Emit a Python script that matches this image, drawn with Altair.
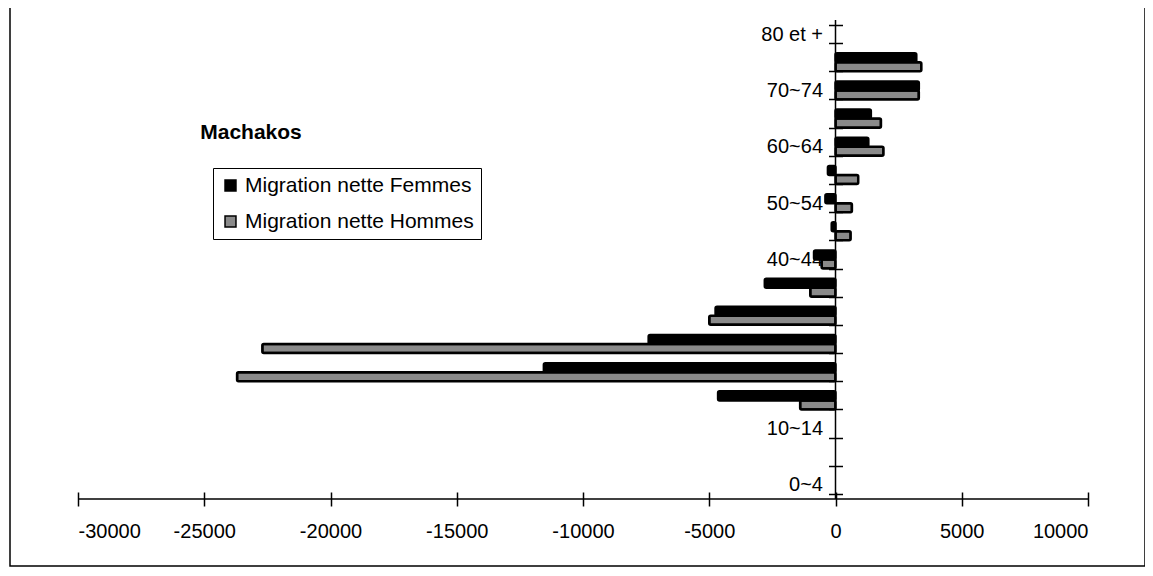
import json
import altair as alt
import pandas as pd

# ---- data ----
ages = ["80 et +", "75~79", "70~74", "65~69", "60~64", "55~59", "50~54", "45~49",
        "40~44", "35~39", "30~34", "25~29", "20~24", "15~19", "10~14", "5~9", "0~4"]
femmes = [0, 3200, 3300, 1400, 1300, -300, -400, -150,
          -850, -2800, -4750, -7400, -11550, -4650, 0, 0, 0]
hommes = [0, 3400, 3300, 1800, 1900, 900, 650, 600,
          -550, -1000, -5000, -22700, -23700, -1400, 0, 0, 0]
series = ["Migration nette Femmes", "Migration nette Hommes"]
shown_labels = ["80 et +", "70~74", "60~64", "50~54", "40~44", "30~34", "20~24", "10~14", "0~4"]
x_ticks = [-30000, -25000, -20000, -15000, -10000, -5000, 0, 5000, 10000]
x_domain = [-30000, 10000]
chart_title = "Machakos"

rows = []
for a, f, h in zip(ages, femmes, hommes):
    rows.append({"age": a, "series": series[0], "value": f})
    rows.append({"age": a, "series": series[1], "value": h})
df = pd.DataFrame(rows)

W, H = 1010, 479
T = 7  # half length of the crossing tick marks
FONT = "Liberation Sans"
zero_px = W * (0 - x_domain[0]) / (x_domain[1] - x_domain[0])

label_expr = "indexof(" + json.dumps(shown_labels) + ", datum.label) >= 0 ? datum.label : ''"

x_scale = alt.Scale(domain=x_domain, nice=False, zero=False)
y_scale = alt.Scale(domain=ages, paddingInner=0.36, paddingOuter=0.18)

bars = alt.Chart(df).transform_filter("datum.value != 0").mark_bar(
    stroke="black", strokeWidth=2.5, cornerRadius=1.5
).encode(
    x=alt.X("value:Q", scale=x_scale,
            axis=alt.Axis(values=x_ticks, title=None, grid=False, labelFontSize=20,
                          labelFont=FONT, labelColor="black", domain=False,
                          offset=-T, labelExpr="datum.value + ''",
                          tickColor="black", tickSize=2 * T, labelPadding=15,
                          tickWidth=1.5, zindex=1)),
    y=alt.Y("age:N", sort=ages, scale=y_scale,
            axis=alt.Axis(offset=-(zero_px + T), title=None, labelExpr=label_expr,
                          tickBand="extent", labelFontSize=20, labelFont=FONT,
                          labelColor="black", domain=False, tickColor="black",
                          tickSize=2 * T, labelPadding=6, tickWidth=1.5,
                          grid=False, zindex=0)),
    yOffset=alt.YOffset("series:N", sort=series),
    color=alt.Color("series:N", sort=series,
                    scale=alt.Scale(domain=series, range=["#000000", "#8a8a8a"]),
                    legend=alt.Legend(title=None, orient="none", legendX=135, legendY=148,
                                      labelFontSize=21, labelFont=FONT, labelColor="black",
                                      symbolType="square", symbolSize=120,
                                      symbolStrokeColor="black", symbolStrokeWidth=1.5,
                                      strokeColor="black", fillColor="white",
                                      padding=7, rowPadding=14, labelLimit=500,
                                      labelOffset=4)),
)

one = pd.DataFrame({"k": [0]})

# axis lines
x_line = alt.Chart(one).mark_rule(color="black", strokeWidth=1.5).encode(
    x=alt.value(0), x2=alt.value(W), y=alt.value(H))
y_line = alt.Chart(one).mark_rule(color="black", strokeWidth=1.5).encode(
    x=alt.datum(0, scale=x_scale), y=alt.value(0), y2=alt.value(H))

frame = alt.Chart(one).mark_rect(
    fillOpacity=0, stroke="black", strokeWidth=1.5
).encode(x=alt.value(-68), x2=alt.value(1067), y=alt.value(-14), y2=alt.value(546))

title = alt.Chart(pd.DataFrame({"t": [chart_title]})).mark_text(
    font=FONT, fontSize=21, fontWeight="bold", color="black"
).encode(x=alt.value(173), y=alt.value(113), text="t:N")

chart = alt.layer(frame, bars, x_line, y_line, title).properties(
    width=W, height=H,
    background="white",
    autosize=alt.AutoSizeParams(type="none"),
    padding={"left": 70, "top": 12, "right": 57, "bottom": 69},
).configure_view(stroke=None)

chart.save("out.html", embed_options={"renderer": "svg", "actions": False})
